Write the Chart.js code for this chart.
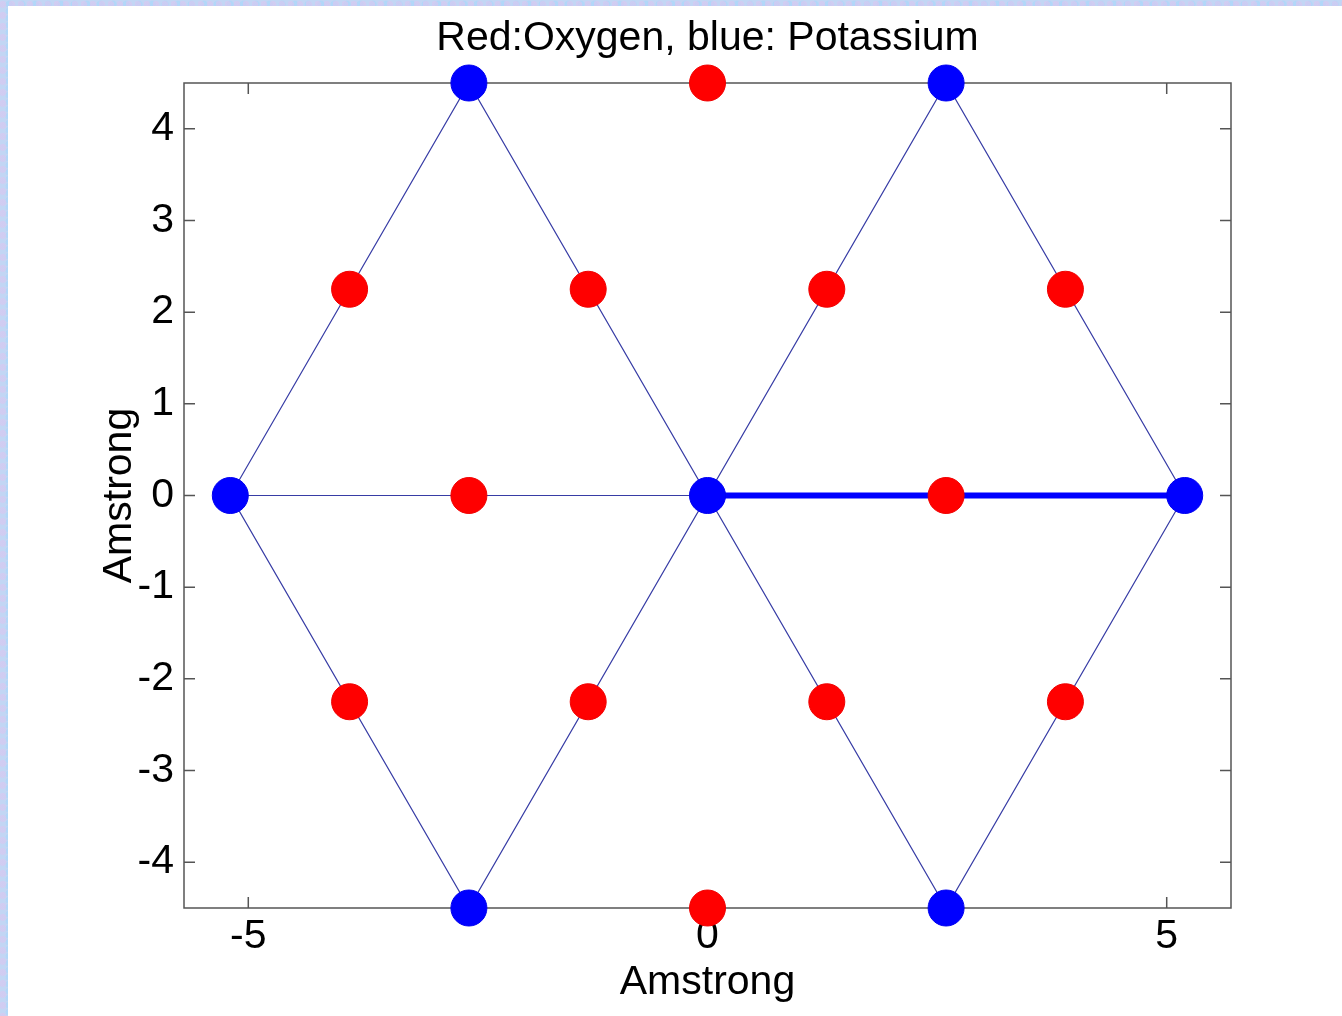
<!DOCTYPE html>
<html>
<head>
<meta charset="utf-8">
<title>Red:Oxygen, blue: Potassium</title>
<script src="https://cdn.jsdelivr.net/npm/chart.js@4.4.1/dist/chart.umd.min.js"></script>
<style>
  html, body { margin: 0; padding: 0; }
  body {
    width: 1342px;
    height: 1016px;
    overflow: hidden;
    position: relative;
    background:
      radial-gradient(circle at 30% 40%, rgba(214,200,240,0.7) 0 3px, transparent 4px) 0 0 / 9px 11px,
      radial-gradient(circle at 70% 60%, rgba(170,215,250,0.7) 0 3px, transparent 4px) 0 0 / 13px 7px,
      #c2d6f4;
  }
  #panel {
    position: absolute;
    left: 8px;
    top: 6px;
    width: 1334px;
    height: 1010px;
    background: #fff;
  }
  canvas { display: block; }
</style>
</head>
<body>
<div id="panel"><canvas id="lattice" width="1334" height="1010"></canvas></div>
<script>
  // atom positions, in Amstrong
  const potassiumX = [-5.196, -2.598, 2.598, 0, 5.196, -2.598, 2.598];
  const potassiumY = [0, 4.5, 4.5, 0, 0, -4.5, -4.5];
  const oxygenX = [-3.897, -1.299, 1.299, 3.897, -2.598, 2.598, 0, 0, -3.897, -1.299, 1.299, 3.897];
  const oxygenY = [2.25, 2.25, 2.25, 2.25, 0, 0, 4.5, -4.5, -2.25, -2.25, -2.25, -2.25];

  // thin lattice edges, one polyline
  const edgeX = [-5.196, -2.598, 0, 2.598, 5.196, 2.598, 0, -2.598, -5.196, 0];
  const edgeY = [0, 4.5, 0, 4.5, 0, -4.5, 0, -4.5, 0, 0];

  // thick bond
  const bondX = [0, 5.196];
  const bondY = [0, 0];

  const xTicks = [-5, 0, 5];
  const yTicks = [-4, -3, -2, -1, 0, 1, 2, 3, 4];
  const xRange = [-5.7, 5.7];
  const yRange = [-4.5, 4.5];

  function toPoints(xs, ys) {
    return xs.map((x, i) => ({ x: x, y: ys[i] }));
  }

  const FONT = { family: '"Liberation Sans", Arial, sans-serif', size: 41 };
  const AXIS = '#555555';

  // MATLAB-like box with inward ticks on all four sides
  const frameTicks = {
    id: 'frameTicks',
    beforeDatasetsDraw(chart) {
      const ctx = chart.ctx;
      const a = chart.chartArea;
      const xs = chart.scales.x, ys = chart.scales.y;
      const len = 11;
      ctx.save();
      ctx.strokeStyle = AXIS;
      ctx.lineWidth = 1.5;
      ctx.strokeRect(a.left, a.top, a.right - a.left, a.bottom - a.top);
      ctx.beginPath();
      xTicks.forEach(v => {
        const px = xs.getPixelForValue(v);
        ctx.moveTo(px, a.bottom); ctx.lineTo(px, a.bottom - len);
        ctx.moveTo(px, a.top); ctx.lineTo(px, a.top + len);
      });
      yTicks.forEach(v => {
        const py = ys.getPixelForValue(v);
        ctx.moveTo(a.left, py); ctx.lineTo(a.left + len, py);
        ctx.moveTo(a.right, py); ctx.lineTo(a.right - len, py);
      });
      ctx.stroke();
      ctx.restore();
    }
  };

  new Chart(document.getElementById('lattice'), {
    type: 'scatter',
    data: {
      datasets: [
        {
          label: 'Oxygen',
          data: toPoints(oxygenX, oxygenY),
          backgroundColor: '#ff0000',
          borderColor: '#f00000',
          borderWidth: 1,
          pointRadius: 18,
          pointHoverRadius: 18,
          clip: false,
          order: 1
        },
        {
          label: 'Potassium',
          data: toPoints(potassiumX, potassiumY),
          backgroundColor: '#0000ff',
          borderColor: '#0000f0',
          borderWidth: 1,
          pointRadius: 18,
          pointHoverRadius: 18,
          clip: false,
          order: 1
        },
        {
          label: 'bond',
          data: toPoints(bondX, bondY),
          showLine: true,
          borderColor: '#0000ff',
          borderWidth: 6,
          pointRadius: 0,
          clip: false,
          order: 2
        },
        {
          label: 'edges',
          data: toPoints(edgeX, edgeY),
          showLine: true,
          borderColor: 'rgb(55,60,165)',
          borderWidth: 1.2,
          pointRadius: 0,
          clip: false,
          order: 3
        }
      ]
    },
    options: {
      responsive: false,
      animation: false,
      events: [],
      layout: { padding: { left: 0, top: 0, right: 111, bottom: 0 } },
      plugins: {
        legend: { display: false },
        tooltip: { enabled: false },
        title: {
          display: true,
          text: 'Red:Oxygen, blue: Potassium',
          color: '#000',
          fullSize: false,
          font: Object.assign({ weight: 'normal' }, FONT),
          padding: { top: 8, bottom: 19.8 }
        }
      },
      scales: {
        x: {
          type: 'linear',
          position: 'bottom',
          min: xRange[0],
          max: xRange[1],
          afterBuildTicks: s => { s.ticks = xTicks.map(v => ({ value: v })); },
          afterFit: s => { s.height = 108; },
          grid: { display: false, drawTicks: false },
          border: { display: false },
          ticks: { color: '#000', font: FONT, padding: 4, maxRotation: 0, autoSkip: false },
          title: {
            display: true,
            text: 'Amstrong',
            color: '#000',
            font: FONT,
            padding: { top: 0, bottom: 9 }
          }
        },
        y: {
          type: 'linear',
          position: 'left',
          min: yRange[0],
          max: yRange[1],
          afterBuildTicks: s => { s.ticks = yTicks.map(v => ({ value: v })); },
          afterFit: s => { s.width = 176; },
          grid: { display: false, drawTicks: false },
          border: { display: false },
          ticks: { color: '#000', font: FONT, padding: 10, autoSkip: false },
          title: {
            display: true,
            text: 'Amstrong',
            color: '#000',
            font: FONT,
            padding: { top: 87, bottom: 0 }
          }
        }
      }
    },
    plugins: [frameTicks]
  });
</script>
</body>
</html>
